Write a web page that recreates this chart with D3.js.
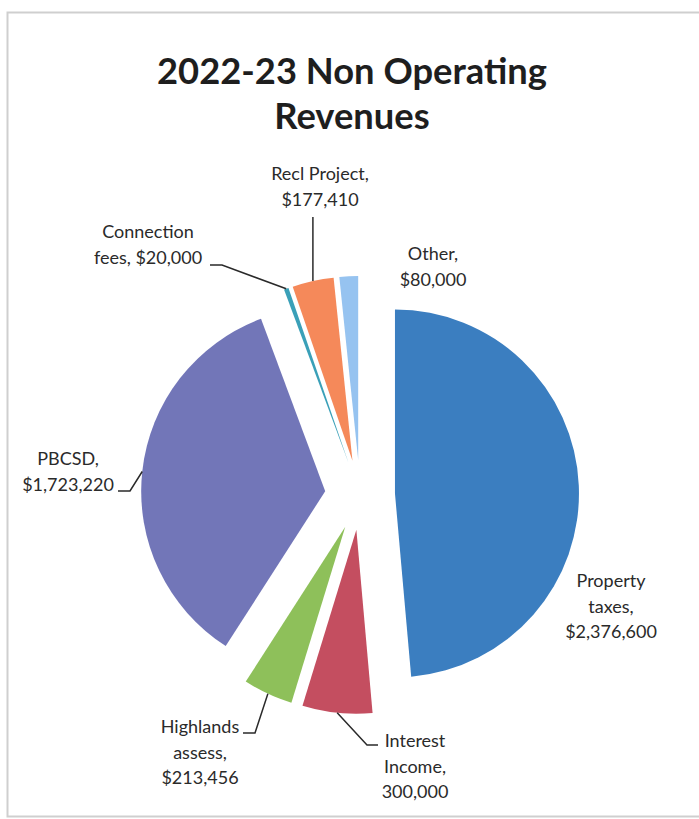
<!DOCTYPE html>
<html><head><meta charset="utf-8">
<script src="https://cdn.jsdelivr.net/npm/d3@7"></script>
<style>html,body{margin:0;padding:0;background:#fff;} svg{display:block;}</style>
</head><body>
<svg id="chart" width="699" height="819"></svg>
<script>
// ---- data ----
const titleLines = ["2022-23 Non Operating", "Revenues"];
const categories = ["Property taxes", "Interest Income", "Highlands assess", "PBCSD", "Connection fees", "Recl Project", "Other"];
const values = [2376600, 300000, 213456, 1723220, 20000, 177410, 80000];
const labelLines = [
  ["Property", "taxes,", "$2,376,600"],
  ["Interest", "Income,", "300,000"],
  ["Highlands", "assess,", "$213,456"],
  ["PBCSD,", "$1,723,220"],
  ["Connection", "fees, $20,000"],
  ["Recl Project,", "$177,410"],
  ["Other,", "$80,000"]
];
const colors = ["#3b7ec0", "#c44e60", "#8ec05a", "#7276b8", "#3aa0b8", "#f5895a", "#96c3f0"];

// ---- layout ----
const W = 699, H = 819;
const cx = 360, cy = 495, R = 184, explode = 35;
const lineH = 25.5;
const labelLayout = [
  {x: 611, y: 587, leader: null},
  {x: 415, y: 747, leader: [[378, 745], [367, 745]]},
  {x: 200, y: 733, leader: [[243, 733], [255, 733]]},
  {x: 68,  y: 465, leader: [[118, 491], [130, 491]]},
  {x: 148, y: 238, leader: [[210, 265], [222, 265]]},
  {x: 320, y: 180, leader: "vertical", top: 217},
  {x: 433, y: 260, leader: null}
];

const svg = d3.select("#chart");
svg.append("rect").attr("x", 0).attr("y", 0).attr("width", W).attr("height", H).attr("fill", "#fff");
// chart frame
svg.append("rect").attr("x", 7.5).attr("y", 12.5).attr("width", 700).attr("height", 804)
  .attr("fill", "none").attr("stroke", "#cfcfcf").attr("stroke-width", 2);

// title
const title = svg.append("text").attr("text-anchor", "middle")
  .attr("font-family", "Lato, 'Open Sans', sans-serif").attr("font-weight", 700)
  .attr("fill", "#1e1e1e").attr("font-size", 36);
title.selectAll("tspan").data(titleLines).join("tspan")
  .attr("x", 352).attr("y", (d, i) => 84 + i * 45).text(d => d);
// fit first title line width to ~390px
const w0 = title.select("tspan").node().getComputedTextLength();
title.attr("font-size", 36 * 390 / w0);

// pie
const pie = d3.pie().sort(null).value(d => d).startAngle(0).endAngle(2 * Math.PI);
const arcs = pie(values);
const arc = d3.arc().innerRadius(0).outerRadius(R);

const slices = svg.append("g").selectAll("g").data(arcs).join("g")
  .attr("transform", d => {
    const m = (d.startAngle + d.endAngle) / 2;
    return `translate(${cx + explode * Math.sin(m)},${cy - explode * Math.cos(m)})`;
  });
slices.append("path").attr("d", arc).attr("fill", (d, i) => colors[i]);

// leaders
const outerPt = d => {
  const m = (d.startAngle + d.endAngle) / 2;
  return [cx + (explode + R) * Math.sin(m), cy - (explode + R) * Math.cos(m)];
};
const lineGen = d3.line();
arcs.forEach((d, i) => {
  const L = labelLayout[i];
  if (!L.leader) return;
  const p = outerPt(d);
  let pts;
  if (L.leader === "vertical") pts = [[p[0], L.top], p];
  else pts = [...L.leader, p];
  svg.append("path").attr("d", lineGen(pts)).attr("fill", "none")
    .attr("stroke", "#2a2a2a").attr("stroke-width", 1.5);
});

// labels
arcs.forEach((d, i) => {
  const L = labelLayout[i];
  const t = svg.append("text").attr("text-anchor", "middle")
    .attr("font-family", "Lato, 'Open Sans', sans-serif").attr("font-size", 18)
    .attr("fill", "#2a2a2a");
  t.selectAll("tspan").data(labelLines[i]).join("tspan")
    .attr("x", L.x).attr("y", (s, j) => L.y + j * lineH).text(s => s);
});
</script>
</body></html>
